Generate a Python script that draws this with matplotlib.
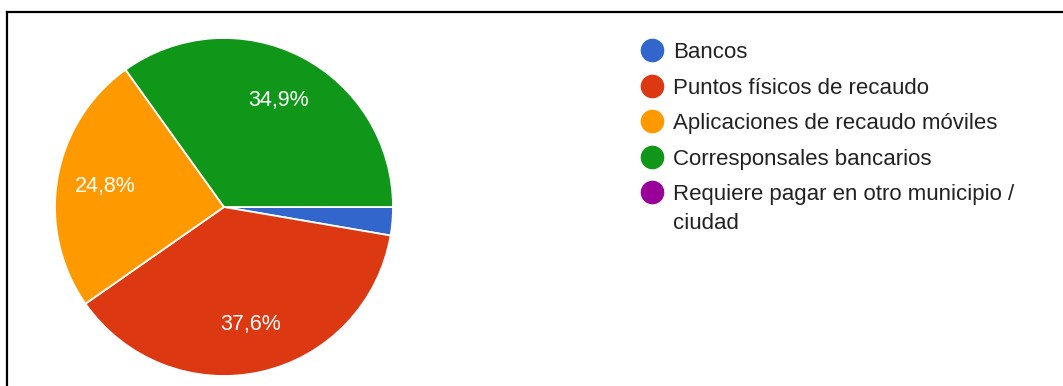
import matplotlib
matplotlib.use("Agg")
import matplotlib.pyplot as plt
from matplotlib.lines import Line2D

categories = [
    "Bancos",
    "Puntos físicos de recaudo",
    "Aplicaciones de recaudo móviles",
    "Corresponsales bancarios",
    "Requiere pagar en otro municipio /\nciudad",
]
shares = [2.7, 37.6, 24.8, 34.9, 0.0]
colors = ["#3366CC", "#DC3912", "#FF9900", "#109618", "#990099"]

W, H = 1063, 386
fig = plt.figure(figsize=(W / 100, H / 100), dpi=100)
fig.patch.set_facecolor("white")

# pie placed by pixel geometry: centre (224, 207), radius 169
cx, cy, r = 224, 207, 169
ax = fig.add_axes([(cx - r) / W, (H - cy - r) / H, 2 * r / W, 2 * r / H])

drawn = [(v, c) for v, c in zip(shares, colors) if v > 0]
vals = [v for v, _ in drawn]
cols = [c for _, c in drawn]


def fmt(p):
    return "" if p < 5 else f"{p:.1f}".replace(".", ",") + "%"


wedges, _, autotexts = ax.pie(
    vals,
    colors=cols,
    startangle=0,
    counterclock=False,
    autopct=fmt,
    pctdistance=0.71,
    wedgeprops=dict(edgecolor="white", linewidth=1.3),
    textprops=dict(color="white", fontsize=15.5, family="Liberation Sans"),
)
ax.set_xlim(-1, 1)
ax.set_ylim(-1, 1)
ax.set_aspect("equal")

# legend drawn item by item: marker centre row, text baseline 8 px lower
lx, tx = 652, 673
rows = [50, 86, 121, 157, 192]
for name, col, y in zip(categories, colors, rows):
    fig.add_artist(Line2D([lx / W], [1 - y / H], marker="o", markersize=16,
                          markerfacecolor=col, markeredgecolor=col,
                          linestyle="none", transform=fig.transFigure))
    lines = name.split("\n")
    for k, line in enumerate(lines):
        fig.text(tx / W, 1 - (y + 8 + 29 * k) / H, line, ha="left", va="baseline",
                 fontsize=16, color="#222222", family="Liberation Sans")

# frame lines along top and left
fig.add_artist(Line2D([7 / W, 1.0], [1 - 12 / H, 1 - 12 / H], color="black",
                      linewidth=1.6, transform=fig.transFigure))
fig.add_artist(Line2D([7 / W, 7 / W], [1 - 12 / H, 0.0], color="black",
                      linewidth=1.6, transform=fig.transFigure))

fig.savefig("out.png", dpi=100, facecolor="white")
